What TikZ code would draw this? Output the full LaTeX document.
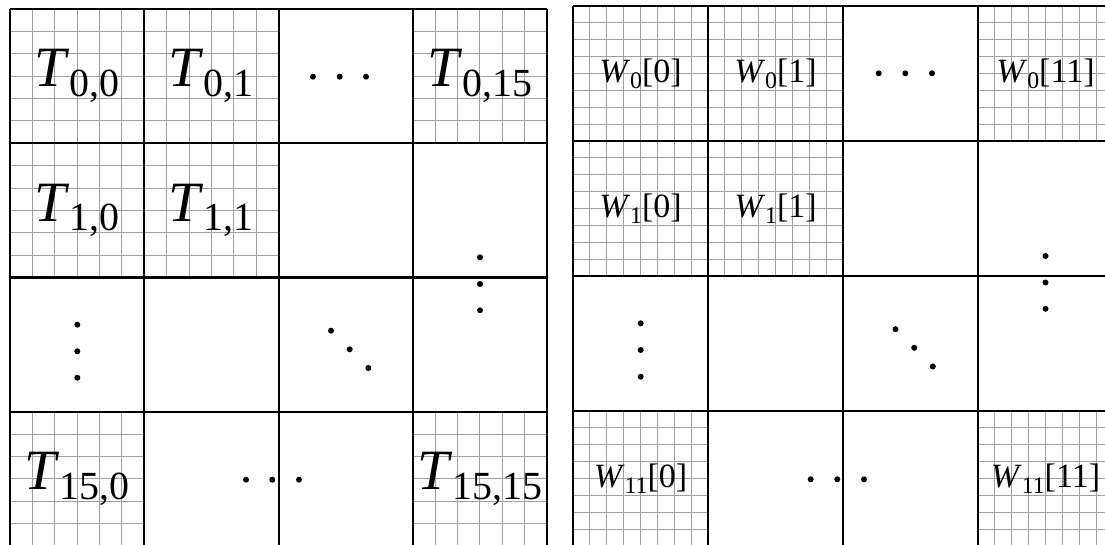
\documentclass[tikz,border=0pt]{standalone}
\usepackage{graphicx}
\usepackage{fontspec}
\setmainfont{Liberation Serif}
\usetikzlibrary{positioning}

% lowered, smaller index after a letter
\newcommand{\lowsub}[1]{\raisebox{-0.17em}{\scalebox{0.7}{#1}}}

\begin{document}
\begin{tikzpicture}[
    x=1pt,
    y=-1pt,
    fine/.style={
        draw=gray!75,
        line width=0.8pt
    },
    frame/.style={
        draw=black,
        line width=2pt
    },
    tlabel/.style={
        inner sep=0pt,
        font=\fontsize{57}{60}\selectfont
    },
    wlabel/.style={
        inner sep=0pt,
        font=\fontsize{34}{36}\selectfont
    }
]

\clip (0,0) rectangle (1105,545);

% Fine grids, left matrix (6 x 6 per block)
\foreach \c/\r in {0/0,1/0,3/0,0/1,1/1,0/3,3/3} {
    \foreach \k in {1,...,5} {
        \draw[fine] ({10+(\c+\k/6)*134.25},{9+\r*134.25}) -- ++(0,134.25);
        \draw[fine] ({10+\c*134.25},{9+(\r+\k/6)*134.25}) -- ++(134.25,0);
    }
}

% Fine grids, right matrix (8 x 8 per block)
\foreach \c/\r in {0/0,1/0,3/0,0/1,1/1,0/3,3/3} {
    \foreach \k in {1,...,7} {
        \draw[fine] ({573+(\c+\k/8)*135},{6+\r*135}) -- ++(0,135);
        \draw[fine] ({573+\c*135},{6+(\r+\k/8)*135}) -- ++(135,0);
    }
}

% Block borders
\foreach \i in {0,...,4} {
    \draw[frame] ({10+\i*134.25},9) -- ++(0,537);
    \draw[frame] (10,{9+\i*134.25}) -- ++(537,0);
    \draw[frame] ({573+\i*135},6) -- ++(0,540);
    \draw[frame] (573,{6+\i*135}) -- ++(540,0);
}

% Left labels
\node[tlabel] (t00) at (77.1,76.1) {\textit{T}\lowsub{0,0}};
\node[tlabel] (t01) at (211.4,76.1) {\textit{T}\lowsub{0,1}};
\node[tlabel] (t015) at (479.9,76.1) {\textit{T}\lowsub{0,15}};
\node[tlabel] (t10) at (77.1,210.4) {\textit{T}\lowsub{1,0}};
\node[tlabel] (t11) at (211.4,210.4) {\textit{T}\lowsub{1,1}};
\node[tlabel] (t150) at (77.1,478.9) {\textit{T}\lowsub{15,0}};
\node[tlabel] (t1515) at (479.9,478.9) {\textit{T}\lowsub{15,15}};

% Right labels
\node[wlabel] (w00) at (640.5,73.5) {\textit{W}\lowsub{0}[0]};
\node[wlabel] (w01) at (775.5,73.5) {\textit{W}\lowsub{0}[1]};
\node[wlabel] (w011) at (1045.5,73.5) {\textit{W}\lowsub{0}[11]};
\node[wlabel] (w10) at (640.5,208.5) {\textit{W}\lowsub{1}[0]};
\node[wlabel] (w11) at (775.5,208.5) {\textit{W}\lowsub{1}[1]};
\node[wlabel] (w110) at (640.5,478.5) {\textit{W}\lowsub{11}[0]};
\node[wlabel] (w1111) at (1045.5,478.5) {\textit{W}\lowsub{11}[11]};

% Ellipsis dots
\foreach \p in {(313,76.7),(339.7,76.7),(366,76.7),
                (480,257.3),(480,284),(480,310.3),
                (77.3,324.7),(77.3,351.3),(77.3,377.7),
                (331,330.7),(349.7,349.3),(368.3,368),
                (246,479.7),(272.3,479.7),(299,479.7),
                (878.7,73.3),(905.3,73.3),(932,73.3),
                (1045.5,256),(1045.5,282.5),(1045.5,308.8),
                (640.7,323.3),(640.7,350),(640.7,376.7),
                (895.5,329.2),(914.2,347.8),(932.8,366.5),
                (810.7,479.3),(837.3,479.3),(864,479.3)}
    \fill \p circle (3pt);

\end{tikzpicture}
\end{document}
